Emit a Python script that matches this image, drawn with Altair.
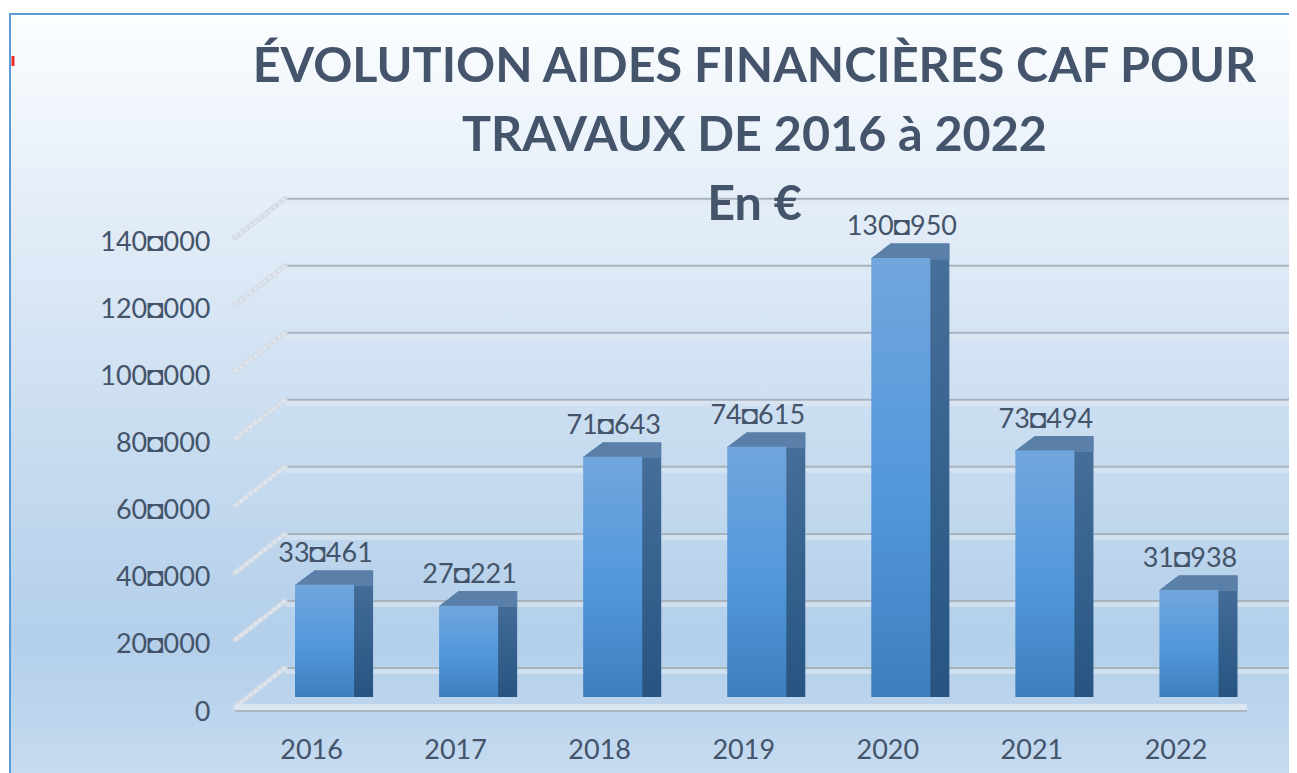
import altair as alt
import pandas as pd

years = ["2016", "2017", "2018", "2019", "2020", "2021", "2022"]
values = [33461, 27221, 71643, 74615, 130950, 73494, 31938]
labels = ["33◘461", "27◘221", "71◘643", "74◘615", "130◘950", "73◘494", "31◘938"]
ticks = [0, 20000, 40000, 60000, 80000, 100000, 120000, 140000]
title_lines = ["ÉVOLUTION AIDES FINANCIÈRES CAF POUR", "TRAVAUX DE 2016 à 2022", "En €"]

INK = "#44546a"
FONT = "Lato"
PL, PT, PR, PB = 225, 190, 0, 53
W, H = 1056, 522

bars = pd.DataFrame({"year": years, "value": values, "label": labels})
bars["cap"] = bars["value"] - 350
grid = pd.DataFrame({"v": ticks})
grid["back"] = grid["v"] + 8650
grid["front"] = grid["v"] - 3280
one = pd.DataFrame({"a": [0]})

xs = alt.Scale(domain=years, range=[19.5, 1028], paddingInner=0.59, paddingOuter=0.295, round=False)
ys = alt.Scale(domain=[-6860, 148844], nice=False, zero=False)
x_axis = alt.Axis(
    domain=False, ticks=False, grid=False, labelAngle=0, labelFont=FONT, labelFontSize=27,
    labelColor=INK, labelPadding=17, labelOffset=-13, zindex=1)
y_axis = alt.Axis(
    values=ticks, domain=False, ticks=False, grid=False, labelFont=FONT, labelFontSize=27,
    labelColor=INK, labelPadding=23, labelOffset=15, zindex=1,
    labelExpr="replace(format(datum.value, ','), ',', '◘')")
X = alt.X("year:N", scale=xs, axis=x_axis, title=None)
Y = alt.Y("value:Q", scale=ys, axis=y_axis, title=None)
Y0 = alt.Y2(datum=0)


def vgrad(*stops):
    return alt.Gradient(
        gradient="linear", x1=0, y1=0, x2=0, y2=1,
        stops=[alt.GradientStop(offset=o, color=c) for o, c in stops],
    )


background = alt.Chart(one).mark_rect(
    color=vgrad((0, "#fcfeff"), (0.2, "#e8f0f9"), (0.55, "#c8dcf0"), (0.8, "#b3cfea"), (1, "#c9ddf1")),
    stroke="#5b9bd5", strokeWidth=2,
).encode(x=alt.value(-223), x2=alt.value(1090), y=alt.value(-184), y2=alt.value(600))

layers = [background]

layers.append(alt.Chart(one).mark_rule(color="#ee2a2a", strokeWidth=3).encode(
    x=alt.value(-220), y=alt.value(-142), y2=alt.value(-132)))

# back wall: dark top edge plus pale band
GY = alt.Y("v:Q", scale=ys, axis=y_axis, title=None)
layers.append(alt.Chart(grid).mark_rule(color="#dfe7f0", opacity=0.6, strokeWidth=6, yOffset=-26).encode(
    x=alt.value(52), x2=alt.value(1063), y=GY))
layers.append(alt.Chart(grid).mark_rule(color="#a8b3c0", strokeWidth=2, yOffset=-29).encode(
    x=alt.value(52), x2=alt.value(1063), y=GY))

# left wall diagonals
FY = alt.Y("front:Q", scale=ys, axis=y_axis, title=None)
layers.append(alt.Chart(grid).mark_rule(color="#d3dae4", strokeWidth=5, strokeCap="round", yOffset=-1).encode(
    x=alt.value(2), x2=alt.value(52), y=FY, y2=alt.Y2("back:Q")))
layers.append(alt.Chart(grid).mark_rule(color="#dfe6ee", strokeWidth=3, strokeCap="butt", strokeDash=[4, 2], yOffset=-1).encode(
    x=alt.value(2), x2=alt.value(52), y=FY, y2=alt.Y2("back:Q")))

# floor edge
floor = grid[grid["v"] == 0]
layers.append(alt.Chart(floor).mark_rule(color="#aab6c4", strokeWidth=8, yOffset=0).encode(
    x=alt.value(2), x2=alt.value(1014), y=FY))
layers.append(alt.Chart(floor).mark_rule(color="#dce6f1", strokeWidth=6, yOffset=-1).encode(
    x=alt.value(2), x2=alt.value(1014), y=FY))

# bar depth
DEPTH = 19
side = vgrad((0, "#47709a"), (1, "#275482"))
for i in range(1, DEPTH + 1):
    layers.append(alt.Chart(bars).mark_bar(color=side, xOffset=i, yOffset=-i * 0.76).encode(x=X, y=Y, y2=Y0))
for i in range(0, DEPTH + 1):
    layers.append(alt.Chart(bars).mark_bar(color="#5a80a9", xOffset=i, yOffset=-i * 0.76).encode(
        x=X, y=Y, y2=alt.Y2("cap:Q")))

# front face
front = vgrad((0, "#71a6dd"), (0.55, "#5197dc"), (1, "#3f7ebc"))
layers.append(alt.Chart(bars).mark_bar(color=front).encode(x=X, y=Y, y2=Y0))

layers.append(alt.Chart(bars).mark_text(
    font=FONT, fontSize=27, color=INK, dy=-31, dx=1, baseline="middle", align="center"
).encode(x=X, y=Y, text="label:N"))

chart = alt.layer(*layers).properties(
    width=W, height=H, autosize="none",
    padding={"left": PL, "top": PT, "right": PR, "bottom": PB},
    background="white",
    title=alt.TitleParams(
        text=title_lines, font=FONT, fontSize=48.5, fontWeight="bold", color=INK,
        anchor="middle", lineHeight=69, dx=-6.5, offset=-217, zindex=1,
    ),
).configure_view(stroke="transparent")

chart.save("out.html", embed_options={"renderer": "svg", "actions": False})
